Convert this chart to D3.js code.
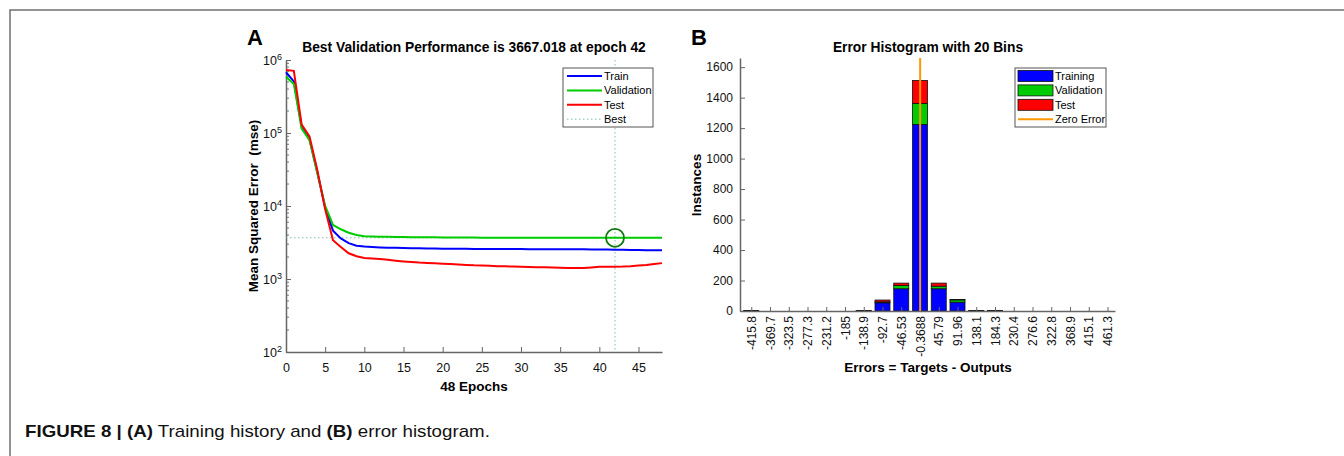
<!DOCTYPE html>
<html>
<head>
<meta charset="utf-8">
<script src="https://cdn.jsdelivr.net/npm/d3@7"></script>
<style>
body { margin: 0; background: #fff; }
svg { display: block; font-family: Arial, "Liberation Sans", Helvetica, sans-serif; }
.axis path, .axis line { stroke: #666; }
.axis text { fill: #111; font-size: 12.5px; }
.panelB .axis text { font-size: 12px; }
</style>
</head>
<body>
<svg id="figure" width="1344" height="456"></svg>
<script>

// panel A - training record (mse per epoch)
var epochs = d3.range(0, 49);
var trainMse = [680000, 510000, 120000, 82000, 29000, 9500, 4600, 3600, 3100, 2850,
	2780, 2740, 2710, 2690, 2670, 2650, 2640, 2630, 2620, 2610,
	2600, 2600, 2590, 2590, 2580, 2580, 2580, 2570, 2570, 2570,
	2570, 2560, 2560, 2560, 2560, 2560, 2550, 2550, 2550, 2540,
	2530, 2530, 2520, 2510, 2500, 2490, 2480, 2480, 2470];
var validationMse = [590000, 470000, 115000, 80000, 28000, 10000, 5500, 4800, 4300, 4000,
	3860, 3820, 3800, 3780, 3770, 3750, 3740, 3730, 3720, 3720,
	3710, 3700, 3700, 3690, 3690, 3680, 3680, 3680, 3680, 3670,
	3670, 3670, 3670, 3670, 3670, 3670, 3670, 3670, 3670, 3670,
	3670, 3670, 3667, 3667, 3667, 3667, 3667, 3667, 3667];
var testMse = [730000, 710000, 130000, 90000, 31000, 9000, 3400, 2750, 2250, 2050,
	1940, 1910, 1880, 1830, 1780, 1740, 1710, 1680, 1660, 1640,
	1620, 1600, 1580, 1560, 1540, 1530, 1520, 1500, 1490, 1480,
	1470, 1460, 1450, 1450, 1440, 1430, 1420, 1420, 1410, 1440,
	1470, 1470, 1470, 1480, 1500, 1530, 1560, 1600, 1650];
var bestEpoch = 42;
var bestPerf = 3667.018;
var perfTicks = [1e2, 1e3, 1e4, 1e5, 1e6];
var epochTicks = [0, 5, 10, 15, 20, 25, 30, 35, 40, 45];

// panel B - error histogram
var binLabels = ["-415.8", "-369.7", "-323.5", "-277.3", "-231.2", "-185", "-138.9", "-92.7", "-46.53", "-0.3688",
	"45.79", "91.96", "138.1", "184.3", "230.4", "276.6", "322.8", "368.9", "415.1", "461.3"];
var trainingCounts = [2, 0, 0, 0, 0, 0, 2, 54, 146, 1224, 146, 58, 2, 2, 0, 0, 0, 0, 0, 0];
var validationCounts = [1, 0, 0, 0, 0, 0, 1, 6, 22, 138, 17, 15, 1, 1, 0, 0, 0, 0, 0, 0];
var testCounts = [0, 0, 0, 0, 0, 0, 0, 12, 15, 151, 20, 3, 0, 1, 0, 0, 0, 0, 0, 0];
var binWidth = 46.16;
var countTicks = [0, 200, 400, 600, 800, 1000, 1200, 1400, 1600];

var blue = "#0000ff", green = "#00cc00", red = "#ff0000", orange = "#ff9900";

var svg = d3.select("#figure");

drawFrame();
drawPerformance();
drawHistogram();
drawCaption();

function drawFrame() {

	svg.append("path")
		.attr("d", "M10,456 V10 H1344")
		.attr("fill", "none")
		.attr("stroke", "#707070")
		.attr("stroke-width", 1.5);

}

function drawPerformance() {

	var x = d3.scaleLinear().domain([0, 48]).range([286, 662]);
	var y = d3.scaleLog().domain([1e2, 1e6]).range([352, 60]);

	var g = svg.append("g").attr("class", "panelA");

	g.append("text")
		.attr("x", 247).attr("y", 45)
		.style("font-size", "22px").style("font-weight", "bold")
		.text("A");

	g.append("text")
		.attr("x", 474).attr("y", 52)
		.attr("text-anchor", "middle")
		.style("font-size", "13.8px").style("font-weight", "bold")
		.text("Best Validation Performance is " + bestPerf + " at epoch " + bestEpoch);

	// minor log ticks
	var minor = [];
	[1e2, 1e3, 1e4, 1e5].forEach(function(base) {
		for (var k = 2; k <= 9; k++) minor.push(base * k);
	});

	g.append("g")
		.selectAll("line")
		.data(minor)
		.enter()
		.append("line")
		.attr("x1", 286).attr("x2", 289)
		.attr("y1", d => y(d)).attr("y2", d => y(d))
		.attr("stroke", "#777");

	var xAxis = g.append("g")
		.attr("class", "axis")
		.attr("transform", "translate(0,352)")
		.call(d3.axisBottom(x).tickValues(epochTicks).tickSizeInner(-5).tickSizeOuter(0).tickPadding(11));

	var yAxis = g.append("g")
		.attr("class", "axis")
		.attr("transform", "translate(286,0)")
		.call(d3.axisLeft(y).tickValues(perfTicks).tickSizeInner(-5).tickSizeOuter(0).tickPadding(4)
			.tickFormat(function() { return "10"; }));

	yAxis.selectAll(".tick text")
		.each(function(d) {
			d3.select(this).append("tspan")
				.attr("dy", "-0.55em")
				.style("font-size", "9px")
				.text(Math.round(Math.log10(d)));
		});

	xAxis.select(".domain").attr("stroke-width", 1.5);
	yAxis.select(".domain").attr("stroke-width", 1.5);

	g.append("text")
		.attr("x", 474).attr("y", 391)
		.attr("text-anchor", "middle")
		.style("font-size", "13.5px").style("font-weight", "bold")
		.text(epochs.length - 1 + " Epochs");

	g.append("text")
		.attr("transform", "translate(258,206) rotate(-90)")
		.attr("text-anchor", "middle")
		.style("font-size", "13.5px").style("font-weight", "bold")
		.style("white-space", "pre")
		.text("Mean Squared Error  (mse)");

	// best epoch guides
	var guide = "#79c4a8";

	g.append("line")
		.attr("x1", x(0)).attr("x2", x(48))
		.attr("y1", y(bestPerf)).attr("y2", y(bestPerf))
		.attr("stroke", guide).attr("stroke-dasharray", "1.5,2.5");

	g.append("line")
		.attr("x1", x(bestEpoch)).attr("x2", x(bestEpoch))
		.attr("y1", 60).attr("y2", 352)
		.attr("stroke", guide).attr("stroke-dasharray", "1.5,2.5");

	var line = d3.line()
		.x((d, i) => x(epochs[i]))
		.y(d => y(d));

	var series = [
		{"name": "Train", "values": trainMse, "color": blue},
		{"name": "Validation", "values": validationMse, "color": green},
		{"name": "Test", "values": testMse, "color": red}
	];

	g.append("g")
		.selectAll("path")
		.data(series)
		.enter()
		.append("path")
		.attr("d", d => line(d.values))
		.attr("fill", "none")
		.attr("stroke", d => d.color)
		.attr("stroke-width", 2);

	g.append("circle")
		.attr("cx", x(bestEpoch)).attr("cy", y(bestPerf))
		.attr("r", 9)
		.attr("fill", "none")
		.attr("stroke", "#0d7a0d")
		.attr("stroke-width", 1.8);

	// legend
	var legend = g.append("g").attr("transform", "translate(563,68)");

	legend.append("rect")
		.attr("width", 90).attr("height", 59)
		.attr("fill", "#fff").attr("stroke", "#555");

	var entries = series.concat([{"name": "Best", "color": guide, "dotted": true}]);

	var row = legend.selectAll("g.entry")
		.data(entries)
		.enter()
		.append("g")
		.attr("class", "entry")
		.attr("transform", (d, i) => "translate(0," + (8 + i * 14.4) + ")");

	row.append("line")
		.attr("x1", 4).attr("x2", 39)
		.attr("stroke", d => d.color)
		.attr("stroke-width", d => d.dotted ? 1 : 2)
		.attr("stroke-dasharray", d => d.dotted ? "1.5,2.5" : null);

	row.append("text")
		.attr("x", 41).attr("dy", "0.35em")
		.style("font-size", "11px")
		.text(d => d.name);

}

function drawHistogram() {

	var x = d3.scaleLinear().domain([-0.6, 19.4]).range([740, 1115]);
	var y = d3.scaleLinear().domain([0, 1660]).range([311, 58]);

	var g = svg.append("g").attr("class", "panelB");

	g.append("text")
		.attr("x", 691).attr("y", 45)
		.style("font-size", "22px").style("font-weight", "bold")
		.text("B");

	g.append("text")
		.attr("x", 928).attr("y", 52)
		.attr("text-anchor", "middle")
		.style("font-size", "13.8px").style("font-weight", "bold")
		.text("Error Histogram with " + binLabels.length + " Bins");

	var table = binLabels.map(function(label, i) {
		return {"bin": i, "training": trainingCounts[i], "validation": validationCounts[i], "test": testCounts[i]};
	});

	var stacked = d3.stack().keys(["training", "validation", "test"])(table);
	var fills = {"training": blue, "validation": green, "test": red};
	var barW = 15;

	g.append("g")
		.selectAll("g")
		.data(stacked)
		.enter()
		.append("g")
		.attr("fill", d => fills[d.key])
		.selectAll("rect")
		.data(d => d)
		.enter()
		.append("rect")
		.attr("x", d => x(d.data.bin) - barW / 2)
		.attr("width", barW)
		.attr("y", d => y(d[1]))
		.attr("height", d => y(d[0]) - y(d[1]))
		.attr("stroke", "#111")
		.attr("stroke-width", 0.8);

	var xAxis = g.append("g")
		.attr("class", "axis")
		.attr("transform", "translate(0,311)")
		.call(d3.axisBottom(x).tickValues(d3.range(binLabels.length)).tickSizeInner(-4).tickSizeOuter(0)
			.tickFormat(i => binLabels[i]));

	xAxis.selectAll(".tick text")
		.attr("transform", "rotate(-90)")
		.attr("text-anchor", "end")
		.attr("x", -5).attr("y", 0)
		.attr("dy", "0.35em");

	var yAxis = g.append("g")
		.attr("class", "axis")
		.attr("transform", "translate(740,0)")
		.call(d3.axisLeft(y).tickValues(countTicks).tickSizeInner(-5).tickSizeOuter(0).tickPadding(7)
			.tickFormat(d3.format("d")));

	xAxis.select(".domain").attr("stroke-width", 1.5);
	yAxis.select(".domain").attr("stroke-width", 1.5);

	// zero error line
	var zeroX = x(9 + 0.3688 / binWidth);

	g.append("line")
		.attr("x1", zeroX).attr("x2", zeroX)
		.attr("y1", y(0)).attr("y2", 58)
		.attr("stroke", orange)
		.attr("stroke-width", 2);

	g.append("text")
		.attr("x", 928).attr("y", 372)
		.attr("text-anchor", "middle")
		.style("font-size", "13.5px").style("font-weight", "bold")
		.text("Errors = Targets - Outputs");

	g.append("text")
		.attr("transform", "translate(701,185) rotate(-90)")
		.attr("text-anchor", "middle")
		.style("font-size", "13.5px").style("font-weight", "bold")
		.text("Instances");

	// legend
	var legend = g.append("g").attr("transform", "translate(1015,68)");

	legend.append("rect")
		.attr("width", 91).attr("height", 59)
		.attr("fill", "#fff").attr("stroke", "#555");

	var entries = [
		{"name": "Training", "color": blue},
		{"name": "Validation", "color": green},
		{"name": "Test", "color": red},
		{"name": "Zero Error", "color": orange, "isLine": true}
	];

	var row = legend.selectAll("g.entry")
		.data(entries)
		.enter()
		.append("g")
		.attr("class", "entry")
		.attr("transform", (d, i) => "translate(0," + (8 + i * 14.4) + ")");

	row.filter(d => !d.isLine)
		.append("rect")
		.attr("x", 3).attr("y", -5.5)
		.attr("width", 35).attr("height", 11)
		.attr("fill", d => d.color)
		.attr("stroke", "#111").attr("stroke-width", 0.8);

	row.filter(d => d.isLine)
		.append("line")
		.attr("x1", 3).attr("x2", 38)
		.attr("stroke", d => d.color)
		.attr("stroke-width", 2);

	row.append("text")
		.attr("x", 40).attr("dy", "0.35em")
		.style("font-size", "11px")
		.text(d => d.name);

}

function drawCaption() {

	var caption = svg.append("text")
		.attr("transform", "translate(25,437)")
		.style("font-size", "16px")
		.style("white-space", "pre")
		.attr("fill", "#111");

	var parts = [
		["FIGURE 8 | ", true],
		["(A)", true],
		[" Training history and ", false],
		["(B)", true],
		[" error histogram.", false]
	];

	parts.forEach(function(p) {
		caption.append("tspan")
			.style("font-weight", p[1] ? "bold" : "normal")
			.text(p[0]);
	});

	var len = caption.node().getComputedTextLength();
	caption.attr("transform", "translate(25,437) scale(" + (465 / len) + ",1)");

}

</script>
</body>
</html>
